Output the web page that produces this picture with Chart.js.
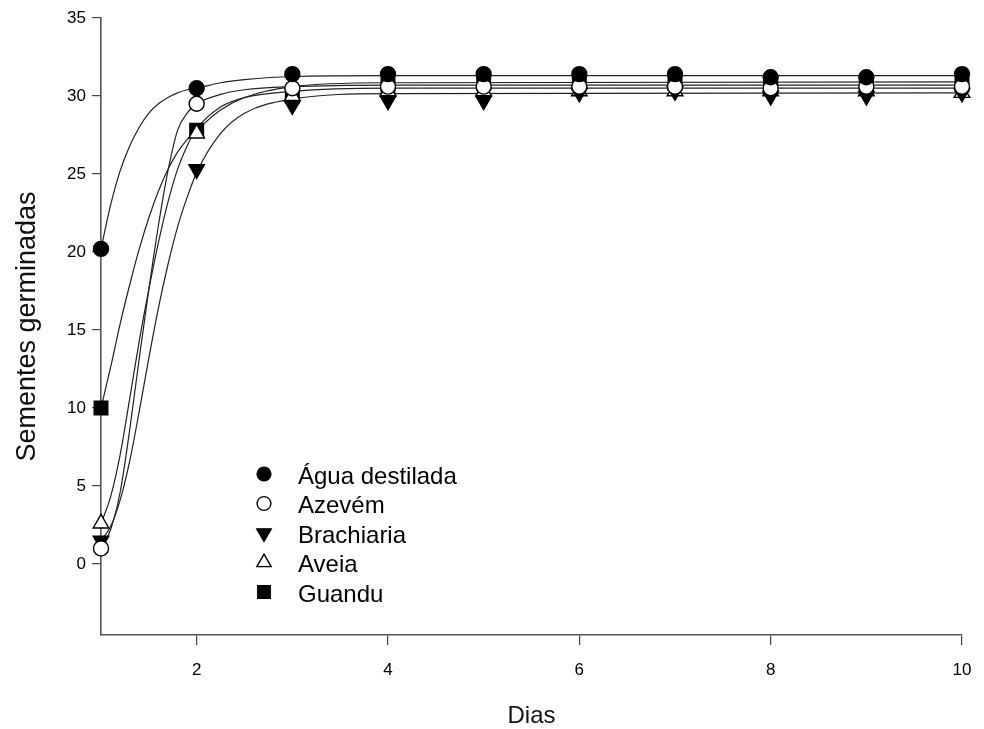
<!DOCTYPE html>
<html>
<head>
<meta charset="utf-8">
<title>Sementes germinadas</title>
<script src="https://cdn.jsdelivr.net/npm/chart.js@4.4.0/dist/chart.umd.min.js"></script>
<style>
  html, body { margin: 0; padding: 0; background: #fff; }
  #wrap { width: 984px; height: 729px; }
</style>
</head>
<body>
<div id="wrap"><canvas id="germChart" width="984" height="729"></canvas></div>
<script>
// observed values (days 1..10)
const days = [1, 2, 3, 4, 5, 6, 7, 8, 9, 10];
const aguaPts = [20.2, 30.5, 31.4, 31.4, 31.4, 31.4, 31.4, 31.2, 31.2, 31.4];
const azevemPts = [1.0, 29.5, 30.5, 30.6, 30.6, 30.6, 30.6, 30.5, 30.6, 30.6];
const brachiariaPts = [1.5, 25.3, 29.4, 29.7, 29.7, 30.2, 30.3, 30.0, 30.0, 30.2];
const aveiaPts = [2.6, 27.6, 30.0, 30.3, 30.3, 30.3, 30.3, 30.3, 30.3, 30.2];
const guanduPts = [10.0, 27.8, 30.0, 30.7, 30.8, 30.8, 30.8, 30.8, 30.7, 30.7];

// fitted curves
const curveX = [1, 1.1, 1.2, 1.3, 1.4, 1.5, 1.6, 1.7, 1.8, 1.9, 2, 2.25, 2.5, 3, 4, 10];
const aguaCurve = [20.2, 23.0, 25.2, 26.8, 28.0, 28.9, 29.5, 29.9, 30.2, 30.4, 30.5, 30.85, 31.05, 31.25, 31.3, 31.3];
const azevemCurve = [1.0, 2.2, 4.6, 8.6, 13.2, 17.6, 21.7, 25.2, 27.8, 28.9, 29.5, 30.1, 30.4, 30.6, 30.7, 30.7];
const brachiariaCurve = [1.5, 2.4, 4.1, 6.6, 9.8, 13.2, 16.4, 19.2, 21.6, 23.5, 25.1, 27.6, 28.9, 29.8, 30.15, 30.2];
const aveiaCurve = [2.6, 4.3, 7.0, 10.6, 14.3, 17.6, 20.6, 23.2, 25.3, 26.8, 27.9, 29.3, 29.9, 30.3, 30.5, 30.5];
const guanduCurve = [10.0, 12.6, 15.4, 17.9, 20.2, 22.2, 23.9, 25.3, 26.4, 27.2, 27.8, 29.1, 29.9, 30.6, 30.85, 30.9];

const seriesNames = ["Água destilada", "Azevém", "Brachiaria", "Aveia", "Guandu"];
const xTicks = [2, 4, 6, 8, 10];
const yTicks = [0, 5, 10, 15, 20, 25, 30, 35];

const FONT = "'Liberation Sans', Arial, sans-serif";

// marker look per series
const markers = [
  { style: 'circle', radius: 7.5, rotation: 0, fill: '#000' },
  { style: 'circle', radius: 7.5, rotation: 0, fill: '#fff' },
  { style: 'triangle', radius: 9, rotation: 180, fill: '#000' },
  { style: 'triangle', radius: 9, rotation: 0, fill: '#fff' },
  { style: 'rect', radius: 9.6, rotation: 0, fill: '#000' }
];

const pointSets = [aguaPts, azevemPts, brachiariaPts, aveiaPts, guanduPts];
const curveSets = [aguaCurve, azevemCurve, brachiariaCurve, aveiaCurve, guanduCurve];

const toXY = (xs, ys) => xs.map((x, i) => ({ x: x, y: ys[i] }));

const datasets = [];
pointSets.forEach((pts, i) => {
  const m = markers[i];
  datasets.push({
    type: 'scatter',
    label: seriesNames[i],
    data: toXY(days, pts),
    showLine: false,
    pointStyle: m.style,
    pointRadius: m.radius,
    pointRotation: m.rotation,
    pointBackgroundColor: m.fill,
    pointBorderColor: '#000',
    pointBorderWidth: 1.4,
    pointHoverRadius: m.radius,
    clip: false,
    order: 1
  });
});
curveSets.forEach((c, i) => {
  datasets.push({
    type: 'line',
    label: seriesNames[i] + ' (ajuste)',
    data: toXY(curveX, c),
    borderColor: '#222',
    borderWidth: 1.2,
    pointRadius: 0,
    cubicInterpolationMode: 'monotone',
    fill: false,
    order: 2
  });
});

// legend inside the plot area
const insideLegend = {
  id: 'insideLegend',
  afterDatasetsDraw(chart) {
    const ctx = chart.ctx;
    const area = chart.chartArea;
    const mx = area.left + 163;
    const tx = area.left + 197;
    const y0 = area.top + 456;
    const step = 29.5;
    ctx.save();
    ctx.font = "24px " + FONT;
    ctx.textBaseline = 'middle';
    ctx.textAlign = 'left';
    seriesNames.forEach((name, i) => {
      const m = markers[i];
      const y = y0 + i * step;
      ctx.fillStyle = m.fill;
      ctx.strokeStyle = '#000';
      ctx.lineWidth = 1.4;
      Chart.helpers.drawPoint(ctx, {
        pointStyle: m.style,
        radius: m.radius * 0.92,
        rotation: m.rotation,
        borderWidth: 1.4
      }, mx, y);
      ctx.fillStyle = '#000';
      ctx.fillText(name, tx, y + 3);
    });
    ctx.restore();
  }
};

const ctx = document.getElementById('germChart');
new Chart(ctx, {
  data: { datasets: datasets },
  options: {
    responsive: false,
    animation: false,
    layout: { padding: { left: 11, right: 22, top: 18, bottom: 0 } },
    plugins: {
      legend: { display: false },
      tooltip: { enabled: false }
    },
    scales: {
      x: {
        type: 'linear',
        min: 1,
        max: 10,
        afterBuildTicks: s => { s.ticks = xTicks.map(v => ({ value: v })); },
        afterFit: s => { s.height = 729 - 635; s.paddingRight = 0; s.paddingLeft = 0; },
        grid: { drawOnChartArea: false, tickLength: 10, color: '#444', lineWidth: 1.2 },
        border: { color: '#555', width: 1.6 },
        ticks: { color: '#000', font: { family: FONT, size: 17 }, padding: 15 },
        title: {
          display: true,
          text: 'Dias',
          color: '#111',
          font: { family: FONT, size: 24 },
          padding: { top: 0, bottom: -2 }
        }
      },
      y: {
        type: 'linear',
        min: -4.55,
        max: 35,
        afterBuildTicks: s => { s.ticks = yTicks.map(v => ({ value: v })); },
        afterFit: s => { s.width = 101 - 11; s.paddingTop = 0; s.paddingBottom = 0; },
        grid: { drawOnChartArea: false, tickLength: 9, color: '#444', lineWidth: 1.2 },
        border: { color: '#555', width: 1.6 },
        ticks: { color: '#000', font: { family: FONT, size: 17 }, padding: 6 },
        title: {
          display: true,
          text: 'Sementes germinadas',
          color: '#111',
          font: { family: FONT, size: 27 },
          padding: { top: 0, bottom: 4 }
        }
      }
    }
  },
  plugins: [insideLegend]
});
</script>
</body>
</html>
